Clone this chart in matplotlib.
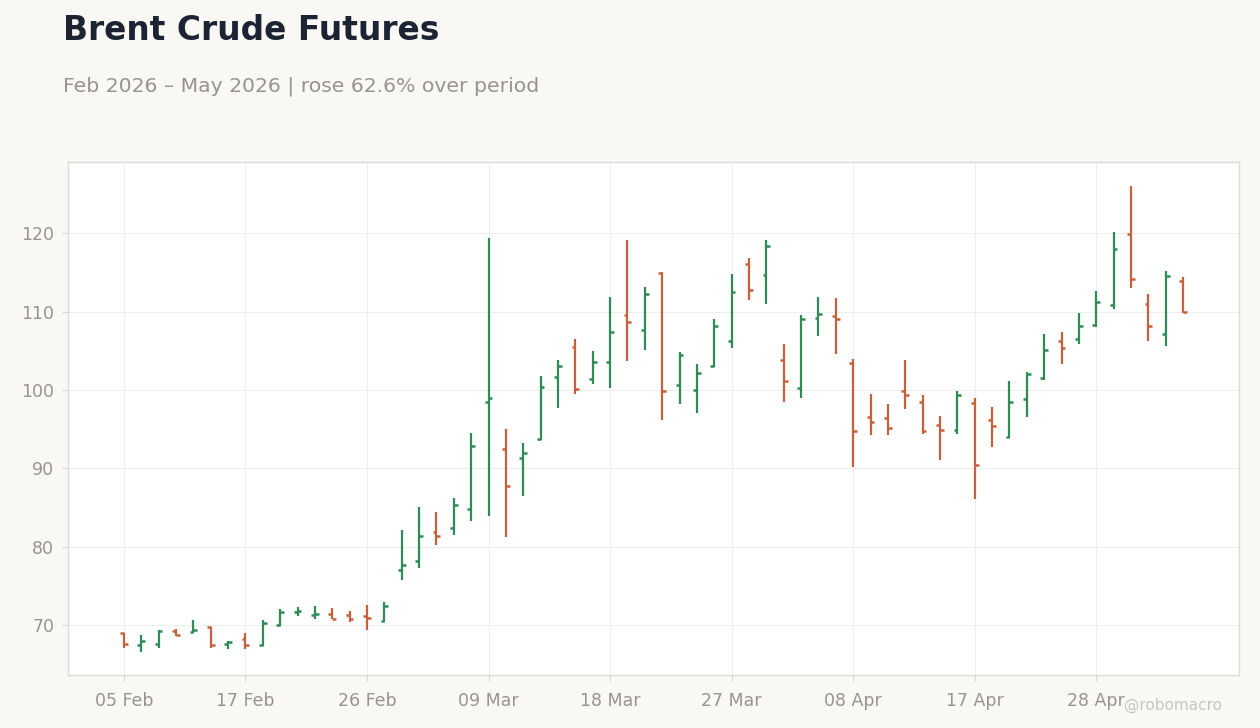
import matplotlib
matplotlib.use("Agg")
import matplotlib.pyplot as plt
import numpy as np

dates = ["05 Feb", "06 Feb", "09 Feb", "10 Feb", "11 Feb", "12 Feb", "13 Feb", "17 Feb",
         "18 Feb", "19 Feb", "20 Feb", "23 Feb", "24 Feb", "25 Feb", "26 Feb", "27 Feb",
         "02 Mar", "03 Mar", "04 Mar", "05 Mar", "06 Mar", "09 Mar", "10 Mar", "11 Mar",
         "12 Mar", "13 Mar", "16 Mar", "17 Mar", "18 Mar", "19 Mar", "20 Mar", "23 Mar",
         "24 Mar", "25 Mar", "26 Mar", "27 Mar", "30 Mar", "31 Mar", "01 Apr", "02 Apr",
         "06 Apr", "07 Apr", "08 Apr", "09 Apr", "10 Apr", "13 Apr", "14 Apr", "15 Apr",
         "16 Apr", "17 Apr", "20 Apr", "21 Apr", "22 Apr", "23 Apr", "24 Apr", "27 Apr",
         "28 Apr", "29 Apr", "30 Apr", "01 May", "04 May", "05 May"]

opens = [68.9, 67.4, 67.5, 69.2, 69.1, 69.7, 67.6, 68.2, 67.4, 70.0,
         71.7, 71.2, 71.4, 71.2, 71.1, 70.5, 77.0, 78.1, 81.9, 82.4,
         84.8, 98.4, 92.4, 91.3, 93.7, 101.7, 105.5, 101.4, 103.5, 109.6,
         107.7, 114.9, 100.6, 100.0, 103.1, 106.3, 116.1, 114.7, 103.8, 100.3,
         109.2, 109.4, 103.4, 96.6, 96.4, 99.8, 98.4, 95.5, 94.9, 98.3,
         96.2, 94.0, 98.9, 101.5, 106.3, 106.5, 108.3, 110.9, 119.9, 111.0,
         107.2, 113.9]
highs = [68.9, 68.7, 69.4, 69.5, 70.6, 69.7, 67.9, 69.0, 70.6, 72.0,
         72.3, 72.4, 72.2, 71.8, 72.6, 72.9, 82.1, 85.1, 84.4, 86.2,
         94.5, 119.4, 95.0, 93.2, 101.8, 103.8, 106.5, 105.0, 111.8, 119.1,
         113.1, 115.0, 104.9, 103.3, 109.1, 114.8, 116.8, 119.2, 105.8, 109.6,
         111.8, 111.7, 104.0, 99.5, 98.2, 103.8, 99.3, 96.7, 99.8, 99.0,
         97.8, 101.1, 102.3, 107.2, 107.4, 109.8, 112.6, 120.2, 126.0, 112.3,
         115.2, 114.4]
lows = [67.0, 66.6, 67.0, 68.6, 69.0, 67.1, 66.9, 66.9, 67.3, 69.9,
        71.1, 70.8, 70.7, 70.4, 69.3, 70.4, 75.7, 77.3, 80.2, 81.5,
        83.2, 83.9, 81.2, 86.4, 93.6, 97.7, 99.5, 100.8, 100.3, 103.7,
        105.1, 96.2, 98.2, 97.1, 102.9, 105.3, 111.5, 111.0, 98.5, 99.0,
        106.9, 104.6, 90.1, 94.3, 94.3, 97.6, 94.4, 91.0, 94.4, 86.1,
        92.7, 93.9, 96.6, 101.3, 103.3, 105.9, 108.0, 110.3, 113.0, 106.3,
        105.6, 109.8]
closes = [67.6, 68.0, 69.2, 68.7, 69.4, 67.4, 67.8, 67.4, 70.3, 71.6,
          71.8, 71.4, 70.8, 70.8, 70.9, 72.4, 77.7, 81.4, 81.4, 85.3,
          92.8, 99.0, 87.7, 92.0, 100.4, 103.1, 100.1, 103.5, 107.4, 108.7,
          112.2, 99.9, 104.4, 102.2, 108.1, 112.5, 112.7, 118.4, 101.1, 109.1,
          109.7, 109.0, 94.8, 95.9, 95.1, 99.4, 94.8, 94.9, 99.4, 90.4,
          95.4, 98.5, 102.0, 105.1, 105.4, 108.2, 111.2, 118.0, 114.1, 108.2,
          114.5, 110.0]

tick_labels = ["05 Feb", "17 Feb", "26 Feb", "09 Mar", "18 Mar", "27 Mar",
               "08 Apr", "17 Apr", "28 Apr"]
yticks = [70, 80, 90, 100, 110, 120]

UP = "#2f8a58"
DOWN = "#c8603c"
BG = "#f9f8f5"

fig = plt.figure(figsize=(12.6, 7.28), dpi=100, facecolor=BG)
ax = fig.add_axes([0.054, 0.0728, 0.9293, 0.7047])
ax.set_facecolor("white")

x = np.arange(len(dates))
tw = 0.22
for i in x:
    c = UP if closes[i] >= opens[i] else DOWN
    ax.vlines(i, lows[i], highs[i], color=c, lw=1.6, zorder=3)
    ax.hlines(opens[i], i - tw, i, color=c, lw=1.8, zorder=3)
    ax.hlines(closes[i], i, i + tw, color=c, lw=1.8, zorder=3)

ax.set_xlim(-3.22, len(dates) - 1 + 3.22)
ax.set_ylim(63.6, 129.1)
tick_pos = [dates.index(t) for t in tick_labels]
ax.set_xticks(tick_pos)
ax.set_xticklabels(tick_labels)
ax.set_yticks(yticks)
ax.grid(True, color="#eeeeee", lw=0.8, zorder=0)
ax.tick_params(colors="#d8d5cf", labelcolor="#98948e", labelsize=12.5, length=4, width=0.8)
ax.tick_params(axis="x", pad=8)
ax.tick_params(axis="y", pad=6)
for s in ax.spines.values():
    s.set_color("#dedbd5")
    s.set_linewidth(1.0)

fig.text(63 / 1260, 1 - 31 / 728, "Brent Crude Futures", fontsize=23.7, fontweight="bold",
         color="#1c2333", ha="left", va="center")
fig.text(63 / 1260, 1 - 86 / 728, "Feb 2026 \u2013 May 2026 | rose 62.6% over period",
         fontsize=14.65, color="#98948e", ha="left", va="center")
fig.text(1222 / 1260, 1 - 705 / 728, "@robomacro", fontsize=11, color="#c8c5c0",
         ha="right", va="center")

fig.savefig("out.png", dpi=100, facecolor=BG)
